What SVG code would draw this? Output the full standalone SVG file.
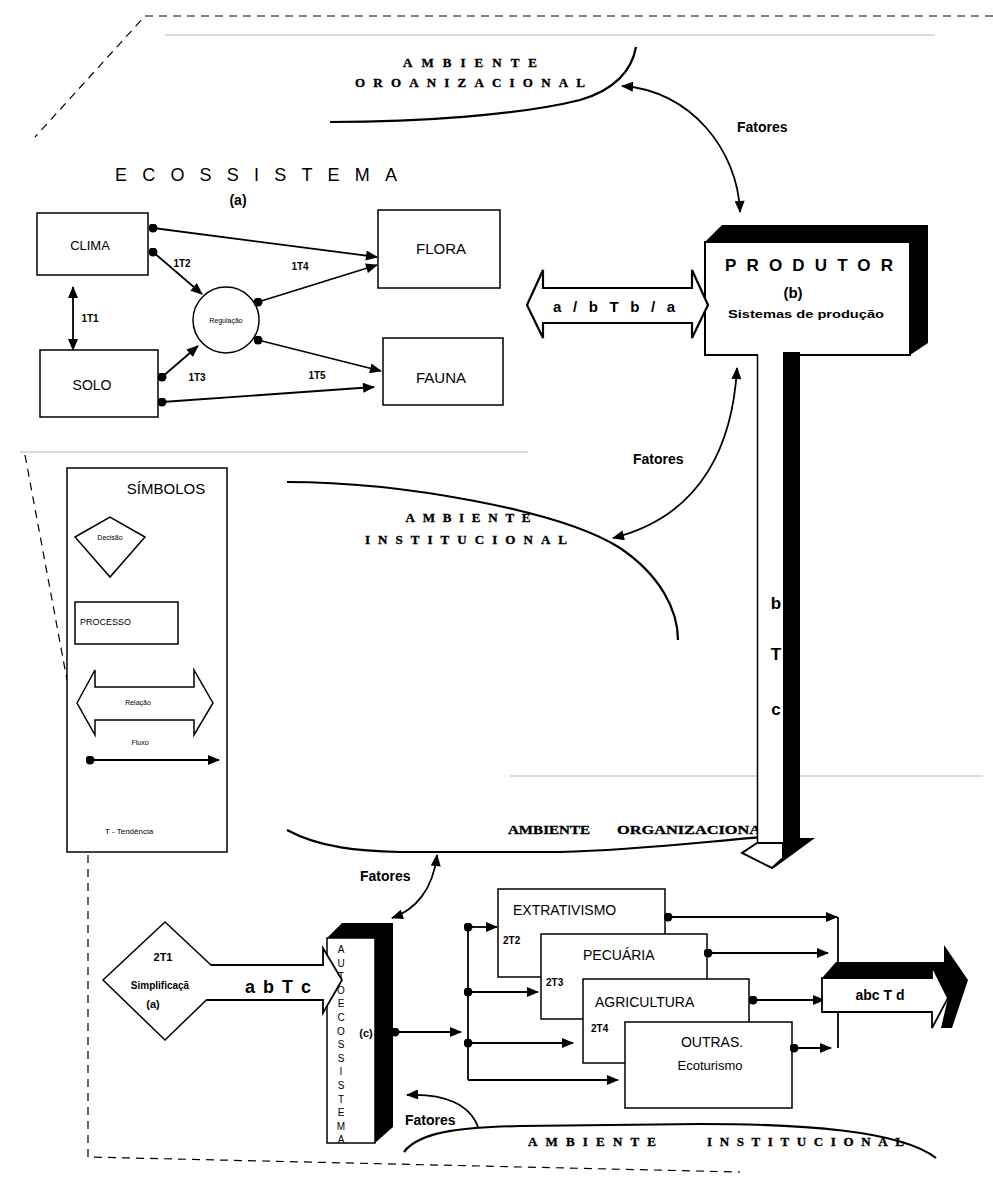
<svg xmlns="http://www.w3.org/2000/svg" width="993" height="1178" viewBox="0 0 993 1178">
<style>
.box{fill:#fff;stroke:#000;stroke-width:1.5}
.ln{fill:none;stroke:#000;stroke-width:1.8}
.th{fill:none;stroke:#000;stroke-width:2.2}
.dash{fill:none;stroke:#000;stroke-width:1.2;stroke-dasharray:8 6}
.faint{stroke:#cfcfcf;stroke-width:1.5;fill:none}
.s{font-family:"Liberation Sans",Arial,sans-serif;fill:#000}
.b{font-weight:bold}
.sf{font-family:"Liberation Serif","Times New Roman",serif;font-weight:bold;fill:#000;stroke:#000;stroke-width:0.35}
.c{text-anchor:middle}
</style>
<defs>
<marker id="arr" viewBox="0 0 12 10" refX="11" refY="5" markerWidth="13" markerHeight="10" markerUnits="userSpaceOnUse" orient="auto-start-reverse"><path d="M0,0 L12,5 L0,10 Z"/></marker>
<marker id="dot" viewBox="0 0 10 10" refX="5" refY="5" markerWidth="9" markerHeight="9" markerUnits="userSpaceOnUse"><circle cx="5" cy="5" r="5"/></marker>
</defs>
<rect width="993" height="1178" fill="#fff"/>

<!-- faint scan lines -->
<g id="faint">
<line class="faint" x1="165" y1="35" x2="935" y2="35"/>
<line class="faint" x1="20" y1="452" x2="528" y2="452"/>
<line class="faint" x1="510" y1="776" x2="983" y2="776"/>
</g>

<!-- dashed boundary lines -->
<g id="boundaries">
<path class="dash" d="M993,16 H145 L35,137"/>
<path class="dash" d="M25,455 L67,680"/>
<path class="dash" d="M88,855 V1157 L740,1172"/>
</g>

<!-- environment curves and labels -->
<g id="ambiente-org-top">
<path class="th" d="M330,122 C420,122 520,115 580,100 C615,90 632,70 636,47"/>
<text class="sf c" x="470" y="67" font-size="13" textLength="134" lengthAdjust="spacing">AMBIENTE</text>
<text class="sf c" x="470" y="87" font-size="13" textLength="230" lengthAdjust="spacing">OROANIZACIONAL</text>
</g>
<g id="ambiente-inst-mid">
<path class="th" d="M287,482 C400,482 560,510 620,548 C660,575 678,610 678,640"/>
<text class="sf c" x="468" y="522" font-size="13" textLength="125" lengthAdjust="spacing">AMBIENTE</text>
<text class="sf c" x="466" y="544" font-size="13" textLength="202" lengthAdjust="spacing">INSTITUCIONAL</text>
</g>
<g id="ambiente-org-mid">
<path class="th" d="M287,830 C320,848 360,851 400,852 L560,852 C640,850 700,842 775,836"/>
<text class="sf" x="508" y="834" font-size="13" textLength="82" lengthAdjust="spacingAndGlyphs">AMBIENTE</text>
<text class="sf" x="617" y="834" font-size="13" textLength="155" lengthAdjust="spacingAndGlyphs">ORGANIZACIONAL</text>
</g>
<g id="ambiente-inst-bottom">
<path class="th" d="M404,1152 C420,1130 470,1127 520,1126 L700,1124 C800,1124 900,1130 936,1158"/>
<text class="sf" x="528" y="1146" font-size="13" textLength="128" lengthAdjust="spacing">AMBIENTE</text>
<text class="sf" x="707" y="1146" font-size="13" textLength="197" lengthAdjust="spacing">INSTITUCIONAL</text>
</g>

<!-- ECOSSISTEMA -->
<g id="ecossistema-title">
<text class="s c" x="256" y="181" font-size="18" textLength="282" lengthAdjust="spacing">ECOSSISTEMA</text>
<text class="s b c" x="238" y="205" font-size="14">(a)</text>
</g>
<g id="clima"><rect class="box" x="37" y="213" width="111" height="62"/><text class="s c" x="90" y="250" font-size="13">CLIMA</text></g>
<g id="flora"><rect class="box" x="378" y="210" width="122" height="78"/><text class="s c" x="441" y="254" font-size="15">FLORA</text></g>
<g id="solo"><rect class="box" x="40" y="350" width="118" height="67"/><text class="s c" x="92" y="390" font-size="14">SOLO</text></g>
<g id="fauna"><rect class="box" x="383" y="338" width="120" height="67"/><text class="s c" x="441" y="383" font-size="15">FAUNA</text></g>
<g id="regulacao"><circle class="box" cx="226" cy="320" r="33"/><text class="s c" x="226" y="323" font-size="7">Regulação</text></g>

<!-- PRODUTOR -->
<g id="produtor">
<polygon points="705,242 722,225 928,225 928,343 910,355 910,242" fill="#000"/>
<rect x="705" y="242" width="205" height="113" fill="#fff" stroke="#000" stroke-width="2"/>
<text class="s b c" x="809" y="271" font-size="17" textLength="168" lengthAdjust="spacing">PRODUTOR</text>
<text class="s b c" x="793" y="298" font-size="15">(b)</text>
<text class="s b c" x="806" y="318" font-size="10" textLength="156" lengthAdjust="spacingAndGlyphs">Sistemas de produção</text>
</g>
<g id="fluxo-ab">
<polygon points="527,305 543,270 543,288 692,288 692,270 708,305 692,338 692,323 543,323 543,338" fill="#fff" stroke="#000" stroke-width="2.2"/>
<text class="s b c" x="614" y="312" font-size="15" textLength="122" lengthAdjust="spacing">a / b T b / a</text>
</g>

<!-- b T c arrow -->
<g id="fluxo-btc">
<rect x="758" y="349" width="25" height="497" fill="#fff"/>
<line x1="757.5" y1="355" x2="757.5" y2="845" stroke="#000" stroke-width="1.5"/>
<text class="s b c" x="776" y="609" font-size="17">b</text>
<text class="s b c" x="776" y="660" font-size="17">T</text>
<text class="s b c" x="776" y="715" font-size="17">c</text>
<rect x="783" y="352" width="17" height="490" fill="#000"/>
<polygon points="783,838 815,838 774,868 783,850" fill="#000"/>
<polygon points="757,843 742,853 772,868 783,858 783,843" fill="#fff" stroke="#000" stroke-width="2"/>
</g>

<!-- SIMBOLOS -->
<g id="simbolos">
<rect class="box" x="67" y="468" width="160" height="384"/>
<text class="s c" x="166" y="494" font-size="15">SÍMBOLOS</text>
<polygon class="box" points="75,537 110,517 145,537 110,577"/>
<text class="s c" x="110" y="540" font-size="7">Decisão</text>
<rect class="box" x="75" y="602" width="103" height="42"/>
<text class="s" x="80" y="625" font-size="9">PROCESSO</text>
<polygon class="box" points="77,703 95,670 95,687 194,687 194,670 213,703 194,735 194,720 95,720 95,735"/>
<text class="s c" x="138" y="705" font-size="7">Relação</text>
<text class="s c" x="140" y="745" font-size="7">Fluxo</text>
<line class="ln" x1="90" y1="760" x2="219" y2="760" marker-start="url(#dot)" marker-end="url(#arr)"/>
<text class="s" x="105" y="834" font-size="8">T - Tendência</text>
</g>

<!-- AUTOECOSSISTEMA -->
<g id="autoecossistema">
<polygon points="327,938 342,923 393,923 393,1127 375,1143 375,938" fill="#000"/>
<rect x="327" y="938" width="48" height="205" fill="#fff" stroke="#000" stroke-width="1.5"/>
<text class="s c" x="341" y="953" font-size="10"><tspan x="341">A</tspan><tspan x="341" dy="13.6">U</tspan><tspan x="341" dy="13.6">T</tspan><tspan x="341" dy="13.6">O</tspan><tspan x="341" dy="13.6">E</tspan><tspan x="341" dy="13.6">C</tspan><tspan x="341" dy="13.6">O</tspan><tspan x="341" dy="13.6">S</tspan><tspan x="341" dy="13.6">S</tspan><tspan x="341" dy="13.6">I</tspan><tspan x="341" dy="13.6">S</tspan><tspan x="341" dy="13.6">T</tspan><tspan x="341" dy="13.6">E</tspan><tspan x="341" dy="13.6">M</tspan><tspan x="341" dy="13.6">A</tspan></text>
<text class="s b c" x="366" y="1037" font-size="11">(c)</text>
</g>

<!-- Simplificacao diamond + abTc arrow -->
<g id="simplificacao">
<polygon class="box" points="103,980 165,922 227,980 165,1040"/>
<polygon points="211,965 323,965 323,948 342,980 323,1013 323,1000 206,1000" fill="#fff"/>
<path d="M211,965 H323 V948 L342,980 L323,1013 V1000 H206" fill="none" stroke="#000" stroke-width="1.8"/>
<text class="s b c" x="163" y="961" font-size="11">2T1</text>
<text class="s b c" x="160" y="989" font-size="10">Simplificaçã</text>
<text class="s b c" x="153" y="1008" font-size="11">(a)</text>
<text class="s b c" x="278" y="993" font-size="18" textLength="66" lengthAdjust="spacing">a b T c</text>
</g>

<!-- production activities -->
<g id="extrativismo"><rect class="box" x="498" y="889" width="167" height="88"/><text class="s" x="513" y="915" font-size="14">EXTRATIVISMO</text><text class="s b" x="503" y="944" font-size="10">2T2</text></g>
<g id="pecuaria"><rect class="box" x="541" y="934" width="166" height="85"/><text class="s" x="583" y="960" font-size="14">PECUÁRIA</text><text class="s b" x="546" y="986" font-size="10">2T3</text></g>
<g id="agricultura"><rect class="box" x="583" y="979" width="166" height="84"/><text class="s" x="595" y="1007" font-size="14">AGRICULTURA</text><text class="s b" x="591" y="1032" font-size="10">2T4</text></g>
<g id="outras"><rect class="box" x="625" y="1022" width="167" height="86"/><text class="s c" x="712" y="1047" font-size="14">OUTRAS.</text><text class="s c" x="710" y="1070" font-size="13">Ecoturismo</text></g>

<!-- connectors -->
<g id="connectors">
<line class="ln" x1="153" y1="228" x2="377" y2="257" marker-start="url(#dot)" marker-end="url(#arr)"/>
<line class="ln" x1="153" y1="252" x2="202" y2="294" marker-start="url(#dot)" marker-end="url(#arr)"/>
<line class="ln" x1="73" y1="287" x2="73" y2="350" marker-start="url(#arr)" marker-end="url(#arr)"/>
<line class="ln" x1="258" y1="302" x2="377" y2="265" marker-start="url(#dot)" marker-end="url(#arr)"/>
<line class="ln" x1="162" y1="377" x2="198" y2="346" marker-start="url(#dot)" marker-end="url(#arr)"/>
<line class="ln" x1="258" y1="340" x2="381" y2="371" marker-start="url(#dot)" marker-end="url(#arr)"/>
<line class="ln" x1="162" y1="402" x2="374" y2="387" marker-start="url(#dot)" marker-end="url(#arr)"/>
<text class="s b c" x="182" y="267" font-size="10">1T2</text>
<text class="s b c" x="90" y="322" font-size="10">1T1</text>
<text class="s b c" x="300" y="270" font-size="10">1T4</text>
<text class="s b c" x="197" y="381" font-size="10">1T3</text>
<text class="s b c" x="317" y="379" font-size="10">1T5</text>

<path class="ln" d="M622,86 C690,90 738,150 740,212" marker-start="url(#arr)" marker-end="url(#arr)"/>
<text class="s b" x="737" y="132" font-size="14">Fatores</text>
<path class="ln" d="M737,368 C733,440 705,515 613,538" marker-start="url(#arr)" marker-end="url(#arr)"/>
<text class="s b" x="633" y="464" font-size="14">Fatores</text>
<path class="ln" d="M437,855 C433,890 415,910 392,918" marker-start="url(#arr)" marker-end="url(#arr)"/>
<text class="s b" x="360" y="881" font-size="14">Fatores</text>
<path class="ln" d="M478,1127 C470,1105 445,1093 407,1095" marker-end="url(#arr)"/>
<text class="s b" x="405" y="1125" font-size="14">Fatores</text>

<line class="ln" x1="395" y1="1032" x2="461" y2="1032" marker-start="url(#dot)" marker-end="url(#arr)"/>
<line class="ln" x1="468" y1="927" x2="468" y2="1080"/>
<line class="ln" x1="468" y1="927" x2="497" y2="927" marker-start="url(#dot)" marker-end="url(#arr)"/>
<line class="ln" x1="468" y1="992" x2="538" y2="992" marker-start="url(#dot)" marker-end="url(#arr)"/>
<line class="ln" x1="468" y1="1043" x2="573" y2="1043" marker-start="url(#dot)" marker-end="url(#arr)"/>
<line class="ln" x1="468" y1="1080" x2="618" y2="1080" marker-end="url(#arr)"/>

<line class="ln" x1="838" y1="917" x2="838" y2="1048"/>
<line class="ln" x1="668" y1="917" x2="837" y2="917" marker-start="url(#dot)" marker-end="url(#arr)"/>
<line class="ln" x1="708" y1="953" x2="828" y2="953" marker-start="url(#dot)" marker-end="url(#arr)"/>
<line class="ln" x1="753" y1="1000" x2="824" y2="1000" marker-start="url(#dot)" marker-end="url(#arr)"/>
<line class="ln" x1="794" y1="1048" x2="831" y2="1048" marker-start="url(#dot)" marker-end="url(#arr)"/>
</g>

<!-- abc T d arrow -->
<g id="fluxo-abctd">
<polygon points="822,978 836,962 944,962 944,945 968,980 952,1028 941,1028 948,998 932,978" fill="#000"/>
<polygon points="822,978 932,978 932,966 948,998 932,1028 932,1012 822,1012" fill="#fff" stroke="#000" stroke-width="1.8"/>
<text class="s b c" x="880" y="1000" font-size="14">abc T d</text>
</g>
</svg>
